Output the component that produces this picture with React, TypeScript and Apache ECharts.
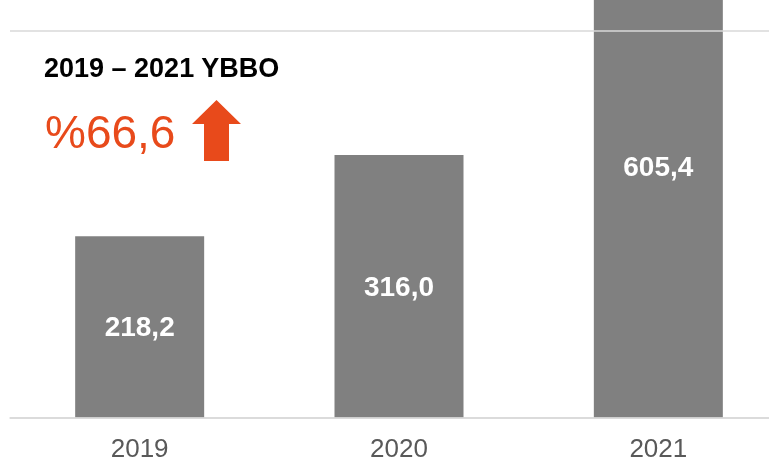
import React, { useEffect, useRef } from "react";
import * as echarts from "echarts";

const categories = ["2019", "2020", "2021"];
const values = [218.2, 316.0, 605.4];
const valueLabels = ["218,2", "316,0", "605,4"];
const gridLineValue = 466;
const axisMax = 700;
const titleText = "2019 – 2021 YBBO";
const changeText = "%66,6";

const OY = 164;

export default function App() {
  const ref = useRef<HTMLDivElement>(null);
  useEffect(() => {
    if (!ref.current) return;
    const chart = echarts.init(ref.current, null, { renderer: "svg" });
    const font = "'Liberation Sans', Arial, sans-serif";
    chart.setOption({
      animation: false,
      grid: { left: 10, right: 0, top: 0, bottom: 51.5, containLabel: false },
      xAxis: {
        type: "category",
        data: categories,
        axisLine: { show: true, lineStyle: { color: "#d9d9d9", width: 1.5 } },
        axisTick: { show: false },
        axisLabel: { color: "#595959", fontSize: 26, fontFamily: font, margin: 17 },
      },
      yAxis: {
        type: "value",
        min: 0,
        max: axisMax,
        interval: gridLineValue,
        axisLabel: { show: false },
        axisLine: { show: false },
        axisTick: { show: false },
        splitLine: { show: true, lineStyle: { color: "#d9d9d9", width: 1.5 } },
        z: 5,
      },
      series: [
        {
          type: "bar",
          data: values,
          barWidth: 129,
          itemStyle: { color: "#808080" },
          label: {
            show: true,
            position: "inside",
            color: "#ffffff",
            fontSize: 28,
            fontWeight: "bold",
            fontFamily: font,
            formatter: (p: any) => valueLabels[p.dataIndex],
          },
          z: 2,
        },
      ],
      graphic: [
        {
          type: "text",
          left: 44,
          top: 54 + OY,
          style: {
            text: titleText,
            font: `bold 27px ${font}`,
            fill: "#000000",
          },
        },
        {
          type: "text",
          left: 45,
          top: 109 + OY,
          style: {
            text: changeText,
            font: `46px ${font}`,
            fill: "#E84A1B",
          },
        },
        {
          type: "polygon",
          shape: {
            points: [
              [216.5, 100 + OY],
              [241, 124 + OY],
              [229, 124 + OY],
              [229, 161 + OY],
              [204, 161 + OY],
              [204, 124 + OY],
              [192, 124 + OY],
            ],
          },
          style: { fill: "#E84A1B" },
        },
      ],
    });
    return () => chart.dispose();
  }, []);
  return (
    <div
      style={{
        position: "fixed",
        left: 0,
        top: 0,
        width: 769,
        height: 469,
        overflow: "hidden",
      }}
    >
      <div
        ref={ref}
        style={{ position: "absolute", left: 0, top: -OY, width: 788, height: 469 + OY }}
      />
    </div>
  );
}
